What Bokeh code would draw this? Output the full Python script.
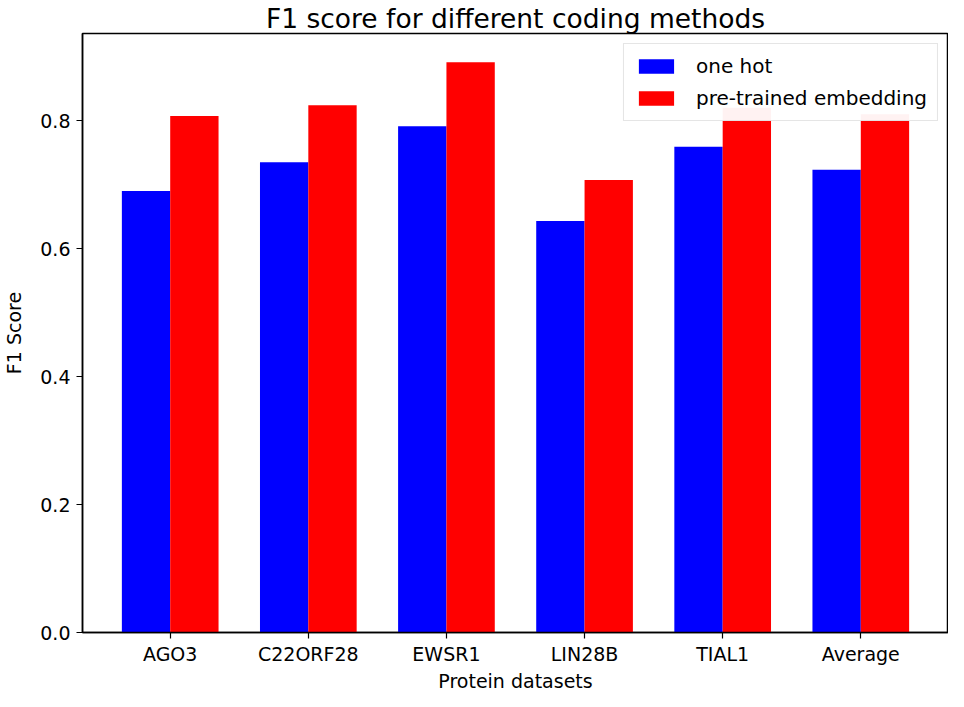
import numpy as np
from bokeh.plotting import figure
from bokeh.models import Range1d, FixedTicker, NumeralTickFormatter, Legend, LegendItem, ColumnDataSource, Title
from bokeh.embed import file_html
from bokeh.resources import INLINE

categories = ["AGO3", "C22ORF28", "EWSR1", "LIN28B", "TIAL1", "Average"]
one_hot = [0.690, 0.735, 0.791, 0.643, 0.759, 0.723]
pretrained = [0.807, 0.824, 0.891, 0.707, 0.820, 0.810]
y_ticks = [0.0, 0.2, 0.4, 0.6, 0.8]

FONT = "DejaVu Sans"
bw = 0.35
idx = np.arange(len(categories))
src = ColumnDataSource(dict(x1=idx - bw / 2, x2=idx + bw / 2, a=one_hot, b=pretrained))

p = figure(width=948, height=691, output_backend="svg", toolbar_location=None,
           x_range=Range1d(-0.635, 5.635), y_range=Range1d(0, 0.936),
           min_border_left=68, min_border_right=0, min_border_top=0, min_border_bottom=0)
p.title.text = "F1 score for different coding methods"
p.title.text_font = FONT
p.title.text_font_size = "26.5px"
p.title.text_font_style = "normal"
p.title.text_color = "black"
p.title.align = "center"
p.title.standoff = 0
p.title.offset = 0

r1 = p.vbar(x="x1", top="a", width=bw, bottom=0, source=src, fill_color="#0000ff", line_color=None)
r2 = p.vbar(x="x2", top="b", width=bw, bottom=0, source=src, fill_color="#ff0000", line_color=None)

p.xgrid.visible = False
p.ygrid.visible = False
p.outline_line_color = "black"
p.outline_line_width = 1.5

for ax in (p.xaxis[0], p.yaxis[0]):
    ax.axis_line_color = "black"
    ax.axis_line_width = 1.5
    ax.major_tick_in = 0
    ax.major_tick_out = 6
    ax.major_tick_line_width = 1.2
    ax.minor_tick_line_color = None
    ax.major_label_text_font = FONT
    ax.major_label_text_font_size = "19px"
    ax.major_label_text_color = "black"
    ax.axis_label_text_font = FONT
    ax.axis_label_text_font_size = "19px"
    ax.axis_label_text_font_style = "normal"
    ax.axis_label_text_color = "black"

p.xaxis.ticker = FixedTicker(ticks=list(idx))
p.xaxis.major_label_overrides = {int(i): c for i, c in zip(idx, categories)}
p.xaxis.major_label_standoff = 4

xlabel = Title(text="Protein datasets", text_font=FONT, text_font_size="19px",
               text_font_style="normal", text_color="black", align="center",
               standoff=0, offset=0)
p.add_layout(xlabel, "below")

p.yaxis.ticker = FixedTicker(ticks=y_ticks)
p.yaxis.formatter = NumeralTickFormatter(format="0.0")
p.yaxis.axis_label = "F1 Score"
p.yaxis.major_label_standoff = 6
p.yaxis.axis_label_standoff = 12

legend = Legend(items=[LegendItem(label="one hot", renderers=[r1]),
                       LegendItem(label="pre-trained embedding", renderers=[r2])],
                location="top_right")
legend.label_text_font = FONT
legend.label_text_font_size = "20px"
legend.label_text_color = "black"
legend.glyph_width = 44
legend.glyph_height = 18
legend.label_standoff = 18
legend.spacing = 8
legend.padding = 10
legend.margin = 10
legend.border_line_color = "#cccccc"
legend.border_line_width = 1.5
p.add_layout(legend)

open("out.html", "w").write(file_html(p, INLINE))
